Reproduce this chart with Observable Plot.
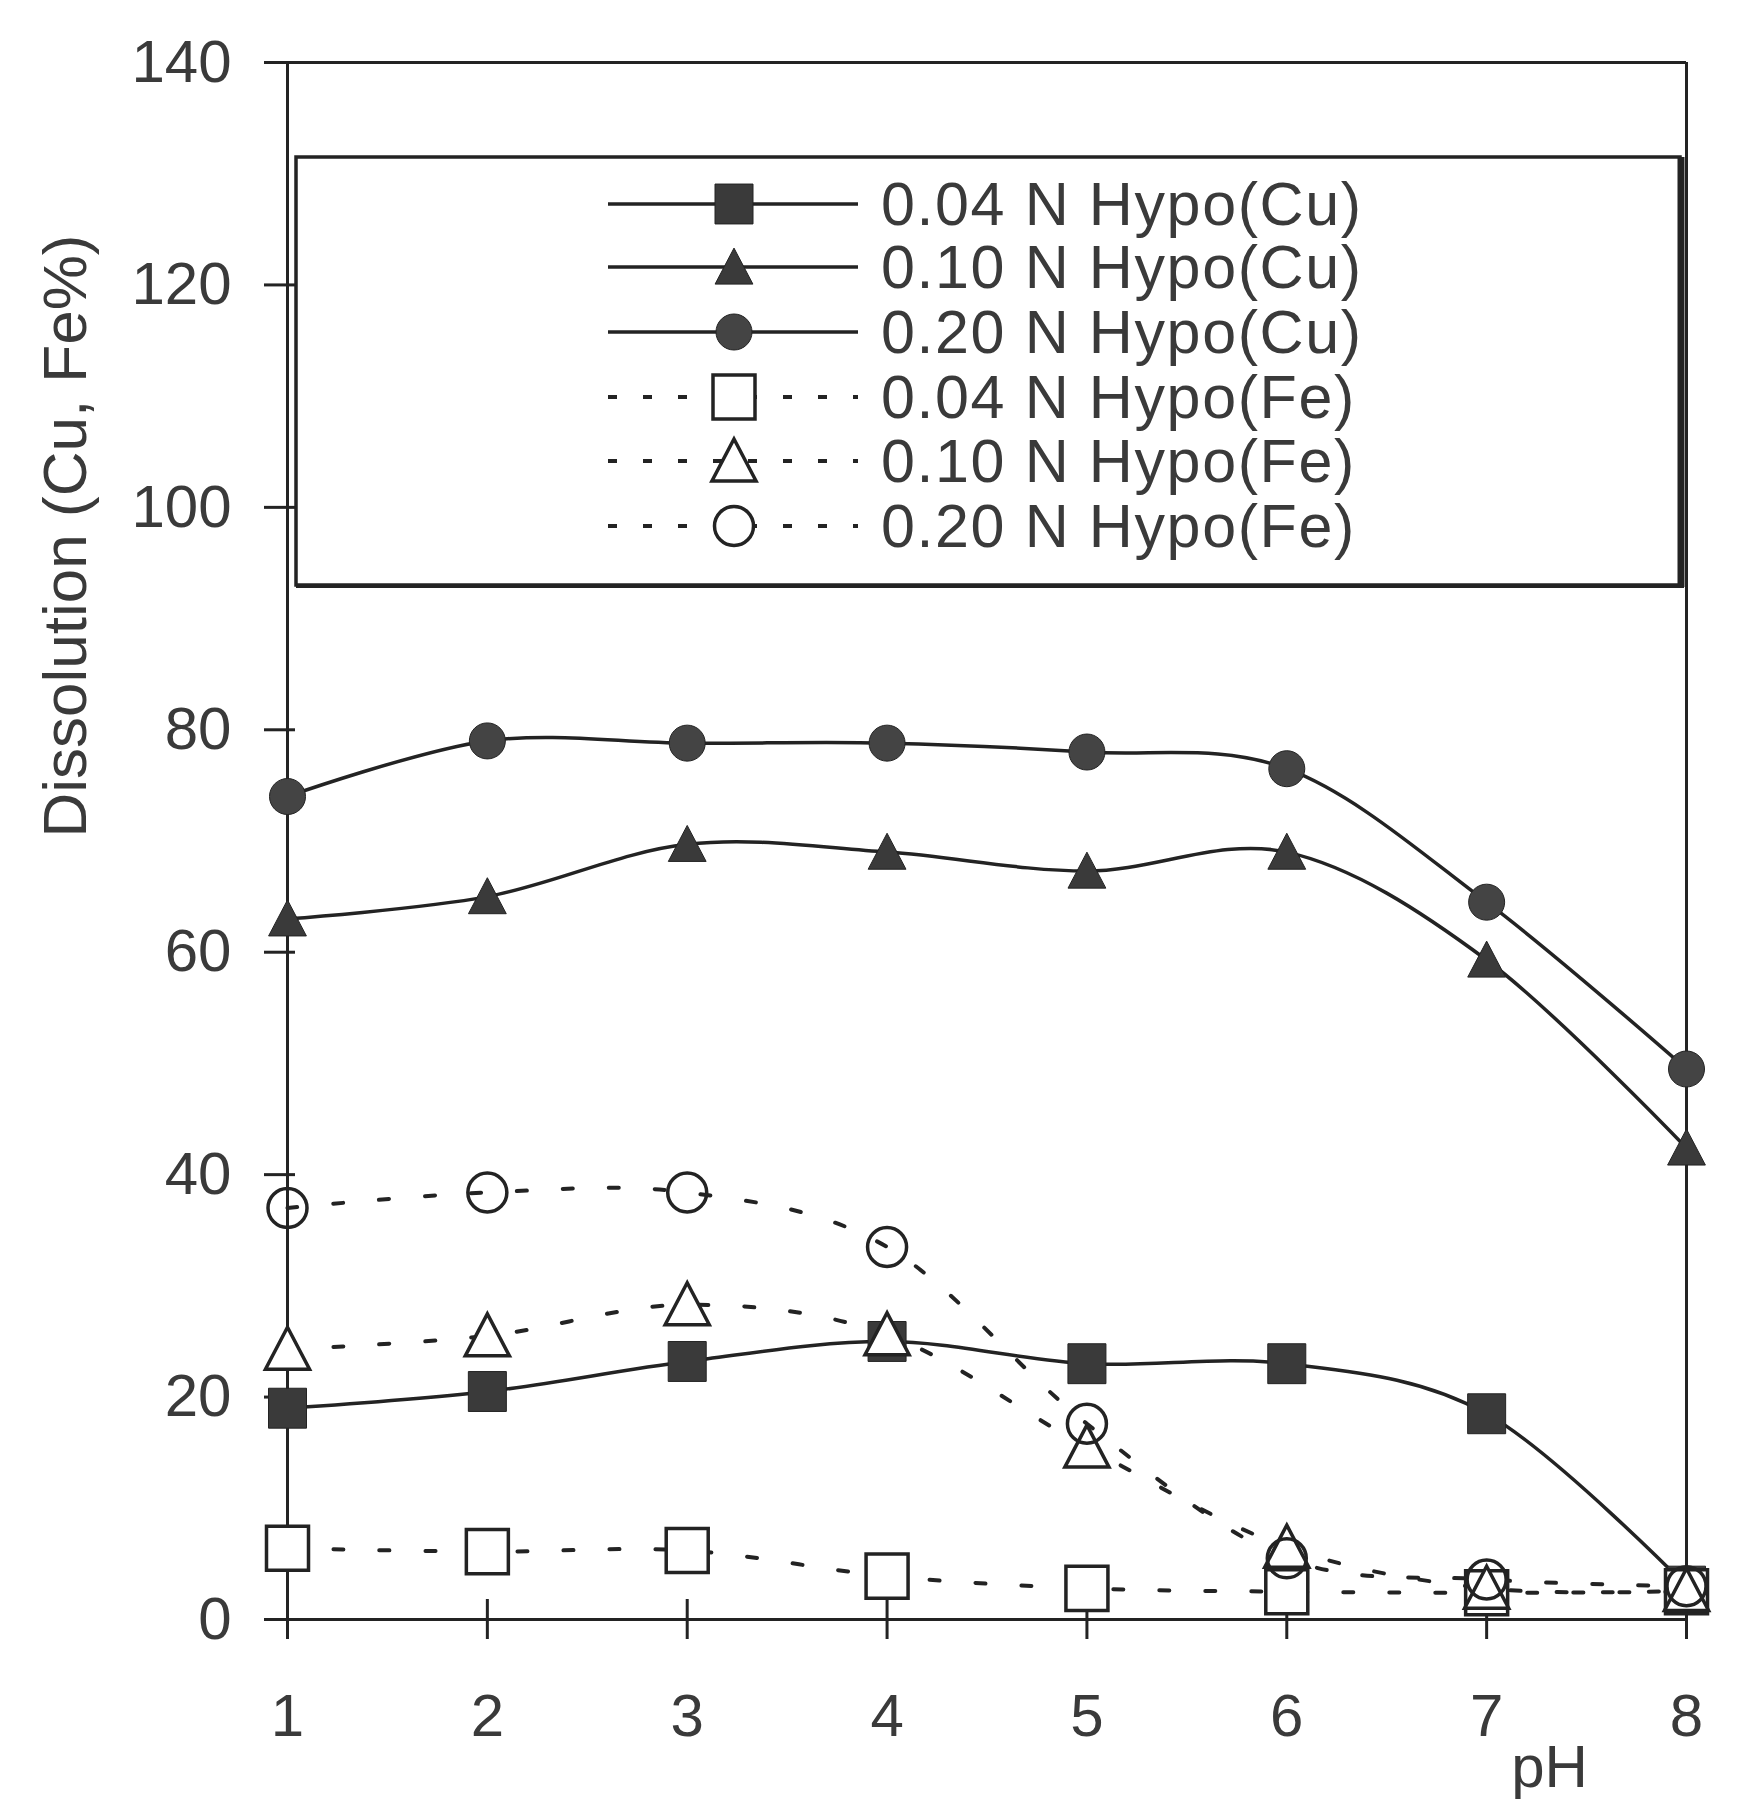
<!DOCTYPE html>
<html><head><meta charset="utf-8">
<script src="https://cdn.jsdelivr.net/npm/d3@7"></script>
<script src="https://cdn.jsdelivr.net/npm/@observablehq/plot@0.6"></script>
<style>body{margin:0;background:#fff;}</style>
</head><body><div id="chart"></div>
<script>
const pH = [1, 2, 3, 4, 5, 6, 7, 8];
const yTicks = [0, 20, 40, 60, 80, 100, 120, 140];
const seriesNames = ["0.04 N Hypo(Cu)", "0.10 N Hypo(Cu)", "0.20 N Hypo(Cu)", "0.04 N Hypo(Fe)", "0.10 N Hypo(Fe)", "0.20 N Hypo(Fe)"];
const cu004 = [19, 20.5, 23.2, 25, 23, 23, 18.5, 3];
const cu010 = [63, 65, 69.7, 69, 67.3, 69, 59.3, 42.4];
const cu020 = [74, 79, 78.8, 78.8, 78, 76.5, 64.5, 49.5];
const fe004 = [6.4, 6.1, 6.2, 3.9, 2.8, 2.5, 2.4, 2.5];
const fe010 = [24.3, 25.5, 28.3, 25.6, 15.5, 6.5, 2.8, 2.6];
const fe020 = [37, 38.4, 38.4, 33.5, 17.6, 5.5, 3.6, 3];
const xLabel = "pH";
const yLabel = "Dissolution (Cu, Fe%)";

const seriesValues = [cu004, cu010, cu020, fe004, fe010, fe020];

const INK = "#232323";
const TEXT = "#3a3a3a";

const sq = {draw(ctx, size) { const r = Math.sqrt(size / Math.PI); ctx.rect(-r, -r * 1.05, 2 * r, 2.1 * r); }};
const tri = {draw(ctx, size) { const r = Math.sqrt(size / Math.PI); ctx.moveTo(0, -r * 1.05); ctx.lineTo(r * 1.05, r * 0.95); ctx.lineTo(-r * 1.05, r * 0.95); ctx.closePath(); }};
const circ = {draw(ctx, size) { const r = Math.sqrt(size / Math.PI); ctx.moveTo(r, 0); ctx.arc(0, 0, r, 0, 2 * Math.PI); ctx.closePath(); }};

const styles = [
  {symbol: sq, r: 19, fill: "#3a3a3a", dash: null},
  {symbol: tri, r: 18, fill: "#3a3a3a", dash: null},
  {symbol: circ, r: 18, fill: "#444", dash: null},
  {symbol: sq, r: 21, fill: "white", dash: "10,36"},
  {symbol: tri, r: 21, fill: "white", dash: "10,36"},
  {symbol: circ, r: 19.5, fill: "none", dash: "10,36"}
];

const tables = seriesValues.map((vals, i) => pH.map((x, j) => ({x, y: vals[j], s: seriesNames[i]})));

const marks = [
  Plot.ruleY([140], {stroke: INK, strokeWidth: 3}),
  Plot.ruleX([8], {stroke: INK, strokeWidth: 3}),
  Plot.ruleX([1], {stroke: INK, strokeWidth: 3}),
  Plot.ruleY([0], {stroke: INK, strokeWidth: 3}),
  Plot.axisY({ticks: yTicks, tickSize: 31, dx: 8, tickPadding: 33, fontSize: 60, stroke: INK, strokeWidth: 3, fill: TEXT, label: null, tickFormat: d => d}),
  Plot.axisX({ticks: pH, tickSize: 40, dy: -20, tickPadding: 54, fontSize: 60, stroke: INK, strokeWidth: 3, fill: TEXT, label: null, tickFormat: d => d})
];
tables.forEach((t, i) => {
  const st = styles[i];
  marks.push(Plot.line(t, {x: "x", y: "y", curve: "cardinal", stroke: INK, strokeWidth: st.dash ? 4 : 3.5, strokeDasharray: st.dash || undefined}));
});
tables.forEach((t, i) => {
  const st = styles[i];
  marks.push(Plot.dot(t, {x: "x", y: "y", symbol: st.symbol, r: st.r, fill: st.fill, stroke: INK, strokeWidth: st.dash ? 3.5 : 1}));
});
marks.push(Plot.text([yLabel], {frameAnchor: "left", textAnchor: "middle", lineAnchor: "middle", rotate: -90, dx: -221, dy: -305, fontSize: 62, fill: TEXT}));
marks.push(Plot.text([xLabel], {frameAnchor: "bottom-right", textAnchor: "middle", lineAnchor: "middle", dx: -137, dy: 148, fontSize: 60, fill: TEXT}));

const plot = Plot.plot({
  width: 1739,
  height: 1806,
  marginLeft: 287,
  marginRight: 53,
  marginTop: 62,
  marginBottom: 187,
  x: {domain: [1, 8]},
  y: {domain: [0, 140]},
  style: {fontFamily: "'Liberation Sans', Arial, sans-serif", background: "white", color: TEXT},
  marks
});

// legend inside the plot area
const svg = d3.select(plot);
const lg = svg.append("g").attr("class", "legend").attr("text-anchor", "start");
lg.append("rect").attr("x", 296).attr("y", 157).attr("width", 1384).attr("height", 428)
  .attr("fill", "white").attr("stroke", INK).attr("stroke-width", 3.5);
lg.append("line").attr("x1", 1681).attr("x2", 1681).attr("y1", 157).attr("y2", 587).attr("stroke", INK).attr("stroke-width", 7);
lg.append("line").attr("x1", 296).attr("x2", 1684).attr("y1", 586).attr("y2", 586).attr("stroke", INK).attr("stroke-width", 4);
const rowY = [204, 267, 332, 397, 461, 526];
seriesNames.forEach((name, i) => {
  const st = styles[i];
  const y = rowY[i];
  lg.append("line").attr("x1", 608).attr("x2", 858).attr("y1", y).attr("y2", y)
    .attr("stroke", INK).attr("stroke-width", st.dash ? 4 : 3.5)
    .attr("stroke-dasharray", st.dash ? "9,26" : null);
  lg.append("path").attr("transform", `translate(734,${y})`)
    .attr("d", d3.symbol(st.symbol, Math.PI * st.r * st.r)())
    .attr("fill", st.fill === "none" ? "white" : st.fill).attr("stroke", INK)
    .attr("stroke-width", st.dash ? 3.5 : 1);
  lg.append("text").attr("x", 881).attr("y", y).attr("dy", "0.35em")
    .attr("text-anchor", "start").attr("letter-spacing", 1.6)
    .attr("font-size", 61).attr("fill", TEXT).text(name);
});

document.getElementById("chart").appendChild(plot);
</script>
</body></html>
